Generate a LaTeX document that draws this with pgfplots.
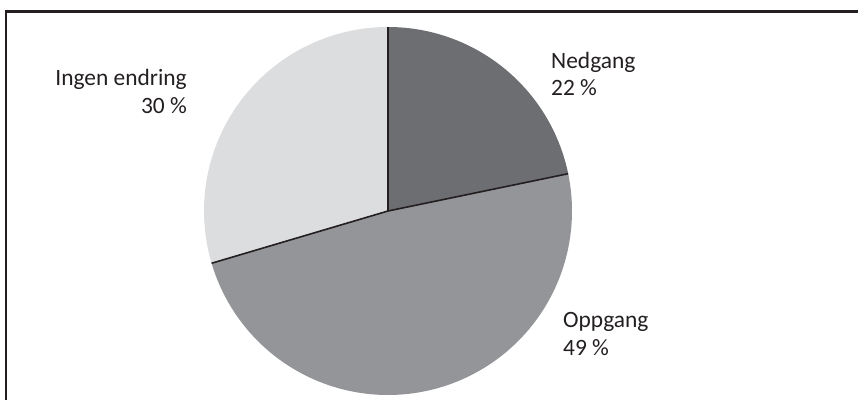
\documentclass[border=0pt]{standalone}
\usepackage{pgfplots}
\pgfplotsset{compat=1.18}
\usepgfplotslibrary{polar}
\usepackage{fontspec}
\setmainfont{Carlito}
\definecolor{nedgang}{HTML}{6D6E71}
\definecolor{oppgang}{HTML}{939598}
\definecolor{ingen}{HTML}{DCDDDF}
\definecolor{edge}{HTML}{231F20}
\definecolor{txt}{HTML}{231F20}
\begin{document}
\begin{tikzpicture}[x=1bp,y=1bp]
\path[use as bounding box] (0,0) rectangle (858,400);
\draw[line width=2.6bp, color=edge] (6,0) -- (6,388.5) -- (858,388.5);
\begin{polaraxis}[
  at={(388bp,189bp)}, anchor=center,
  scale only axis, width=368bp, height=368bp,
  xmin=0, xmax=360, ymin=0, ymax=1,
  hide axis, clip=false,
]
% Nedgang 22 %: 11.7 deg to 90 deg
\addplot[fill=nedgang, draw=none, domain=11.7:90, samples=80] {1} -- (axis cs:0,0) -- cycle;
% Oppgang 49 %: -163.5 deg to 11.7 deg
\addplot[fill=oppgang, draw=none, domain=-163.5:11.7, samples=160] {1} -- (axis cs:0,0) -- cycle;
% Ingen endring 30 %: 90 deg to 196.5 deg
\addplot[fill=ingen, draw=none, domain=90:196.5, samples=100] {1} -- (axis cs:0,0) -- cycle;
\addplot[draw=edge, line width=1.6bp] coordinates {(0,0) (90,1)};
\addplot[draw=edge, line width=1.6bp] coordinates {(0,0) (11.7,1)};
\addplot[draw=edge, line width=1.6bp] coordinates {(0,0) (196.5,1)};
\end{polaraxis}
\begin{scope}[every node/.style={inner sep=0pt, text=txt, font=\fontsize{23.5}{28}\selectfont}]
\node[anchor=base west] at (551,332) {Nedgang};
\node[anchor=base west] at (551,305) {22 \%};
\node[anchor=base west] at (563,73) {Oppgang};
\node[anchor=base west] at (563,45) {49 \%};
\node[anchor=base east] at (187,315) {Ingen endring};
\node[anchor=base east] at (187,287) {30 \%};
\end{scope}
\end{tikzpicture}
\end{document}
